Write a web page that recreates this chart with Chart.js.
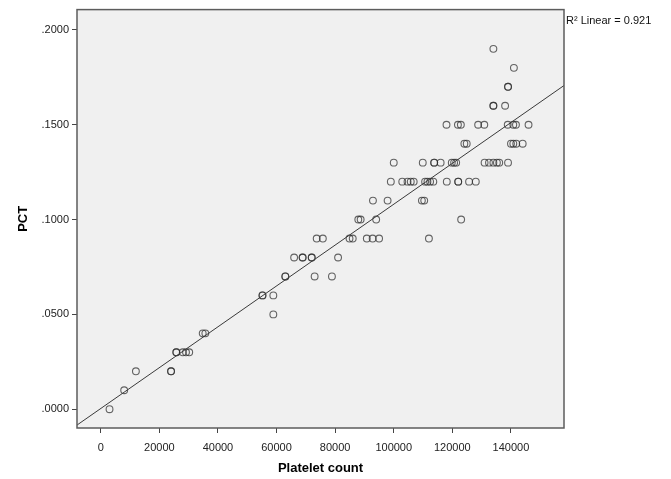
<!DOCTYPE html>
<html><head><meta charset="utf-8">
<script src="https://cdn.jsdelivr.net/npm/chart.js@4/dist/chart.umd.min.js"></script>
<style>html,body{margin:0;padding:0;background:#fff}#wrap{width:671px;height:479px;position:relative}</style>
</head><body><div id="wrap"><canvas id="c" width="671" height="479"></canvas></div>
<script>
// ---- data ----
const plateletCount = [
  3000,
  8000,
  12000, 24000, 24000,
  25800, 25800, 28000, 29100, 30200,
  34800, 35700,
  58900,
  55200, 55200, 58900,
  63000, 63000, 73000, 78900,
  66000, 68900, 68900, 72000, 72000, 81000,
  73700, 75800, 84900, 86000, 90800, 92800, 95000, 112000,
  87900, 88700, 94000, 123000,
  92900, 97900, 109600, 110400,
  99000, 102900, 104700, 105800, 106800, 110700, 111500, 112400, 113500, 118100, 122000, 122000, 125700, 128000,
  100000, 109900, 113800, 113800, 116000, 119800, 120600, 121300, 131000, 132500, 134000, 135200, 136000, 139000,
  124100, 124900, 140000, 140800, 141800, 144000,
  118000, 121900, 122900, 128800, 130900, 138900, 140800, 141700, 146000,
  134000, 134000, 138000,
  139000, 139000,
  141000,
  134000
];
const pct = [
  0.00,
  0.01,
  0.02, 0.02, 0.02,
  0.03, 0.03, 0.03, 0.03, 0.03,
  0.04, 0.04,
  0.05,
  0.06, 0.06, 0.06,
  0.07, 0.07, 0.07, 0.07,
  0.08, 0.08, 0.08, 0.08, 0.08, 0.08,
  0.09, 0.09, 0.09, 0.09, 0.09, 0.09, 0.09, 0.09,
  0.10, 0.10, 0.10, 0.10,
  0.11, 0.11, 0.11, 0.11,
  0.12, 0.12, 0.12, 0.12, 0.12, 0.12, 0.12, 0.12, 0.12, 0.12, 0.12, 0.12, 0.12, 0.12,
  0.13, 0.13, 0.13, 0.13, 0.13, 0.13, 0.13, 0.13, 0.13, 0.13, 0.13, 0.13, 0.13, 0.13,
  0.14, 0.14, 0.14, 0.14, 0.14, 0.14,
  0.15, 0.15, 0.15, 0.15, 0.15, 0.15, 0.15, 0.15, 0.15,
  0.16, 0.16, 0.16,
  0.17, 0.17,
  0.18,
  0.19
];
const xTickValues = [0, 20000, 40000, 60000, 80000, 100000, 120000, 140000];
const xTickLabels = ['0', '20000', '40000', '60000', '80000', '100000', '120000', '140000'];
const yTickValues = [0, 0.05, 0.10, 0.15, 0.20];
const yTickLabels = ['.0000', '.0500', '.1000', '.1500', '.2000'];
const xAxisTitle = 'Platelet count';
const yAxisTitle = 'PCT';
const fitLabel = 'R\u00B2 Linear = 0.921';
const xRange = [-8100, 158100];
const yRange = [-0.0099, 0.2107];

// ---- least-squares fit line computed from the data ----
const n = plateletCount.length;
const mx = plateletCount.reduce((a, b) => a + b, 0) / n;
const my = pct.reduce((a, b) => a + b, 0) / n;
let sxy = 0, sxx = 0;
for (let i = 0; i < n; i++) { sxy += (plateletCount[i] - mx) * (pct[i] - my); sxx += (plateletCount[i] - mx) ** 2; }
const slope = sxy / sxx;
const intercept = my - slope * mx;
const fitPoints = xRange.map(x => ({ x: x, y: intercept + slope * x }));
const scatterPoints = plateletCount.map((x, i) => ({ x: x, y: pct[i] }));

const FONT = "'Liberation Sans', Arial, sans-serif";

const frame = {
  id: 'frame',
  beforeDatasetsDraw(chart) {
    const { ctx, chartArea: a } = chart;
    ctx.save();
    ctx.fillStyle = '#f0f0f0';
    ctx.fillRect(a.left, a.top, a.right - a.left, a.bottom - a.top);
    ctx.restore();
  },
  afterDraw(chart) {
    const { ctx, chartArea: a } = chart;
    ctx.save();
    ctx.strokeStyle = '#5c5c5c';
    ctx.lineWidth = 1.5;
    ctx.strokeRect(a.left, a.top, a.right - a.left, a.bottom - a.top);
    ctx.fillStyle = '#111';
    ctx.font = '11px ' + FONT;
    ctx.textBaseline = 'middle';
    ctx.textAlign = 'left';
    ctx.fillText(fitLabel, a.right + 2, a.top + 11);
    ctx.restore();
  }
};

new Chart(document.getElementById('c'), {
  type: 'scatter',
  data: {
    datasets: [
      {
        type: 'line',
        data: fitPoints,
        borderColor: '#3a3a3a',
        borderWidth: 1,
        pointRadius: 0,
        fill: false,
        order: 1
      },
      {
        data: scatterPoints,
        pointRadius: 3.4,
        pointBorderWidth: 1.1,
        pointBackgroundColor: 'rgba(0,0,0,0)',
        pointBorderColor: 'rgba(45,45,45,0.72)',
        order: 2
      }
    ]
  },
  options: {
    responsive: false,
    animation: false,
    devicePixelRatio: 1,
    layout: { padding: { left: 10, top: 4, right: 107, bottom: 0 } },
    plugins: { legend: { display: false }, tooltip: { enabled: false }, title: { display: false } },
    scales: {
      x: {
        type: 'linear',
        min: xRange[0],
        max: xRange[1],
        afterBuildTicks: s => { s.ticks = xTickValues.map(v => ({ value: v })); },
        afterFit: s => { s.height = 51; },
        ticks: {
          autoSkip: false, maxRotation: 0, padding: 8, color: '#222',
          font: { family: FONT, size: 11 },
          callback: (v, i) => xTickLabels[i]
        },
        grid: { drawOnChartArea: false, tickLength: 5, color: '#444', tickColor: '#444' },
        border: { display: false },
        title: { display: true, text: xAxisTitle, color: '#000', font: { family: FONT, size: 13, weight: 'bold' }, padding: { top: 6, bottom: 3 } }
      },
      y: {
        type: 'linear',
        min: yRange[0],
        max: yRange[1],
        afterBuildTicks: s => { s.ticks = yTickValues.map(v => ({ value: v })); },
        afterFit: s => { s.width = 67; },
        ticks: {
          autoSkip: false, padding: 3, color: '#222',
          font: { family: FONT, size: 11 },
          callback: (v, i) => yTickLabels[i]
        },
        grid: { drawOnChartArea: false, tickLength: 5, color: '#444', tickColor: '#444' },
        border: { display: false },
        title: { display: true, text: yAxisTitle, color: '#000', font: { family: FONT, size: 13, weight: 'bold' }, padding: { top: 6, bottom: 4 } }
      }
    }
  },
  plugins: [frame]
});
</script>
</body></html>
